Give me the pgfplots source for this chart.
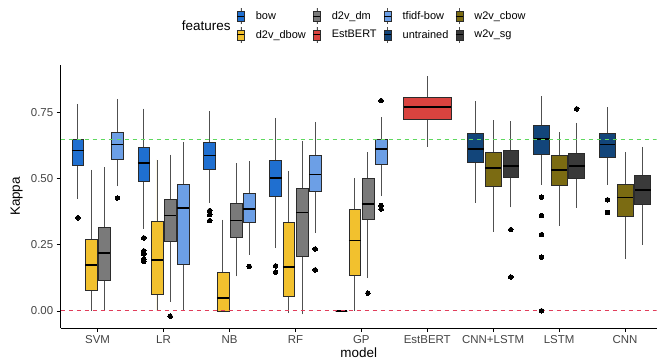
\documentclass[border=0pt]{standalone}
\usepackage{pgfplots}
\pgfplotsset{compat=1.18}
\usepgfplotslibrary{statistics}
\usepackage{fontspec}
\setmainfont{Liberation Sans}
\definecolor{cbow}{HTML}{1F6FD0}
\definecolor{cdbow}{HTML}{F2C12E}
\definecolor{cdm}{HTML}{7A7A7A}
\definecolor{ctfidf}{HTML}{6C9FE6}
\definecolor{cbert}{HTML}{D9433F}
\definecolor{cuntr}{HTML}{12457A}
\definecolor{ccbow}{HTML}{7B6B12}
\definecolor{csg}{HTML}{3A3A3A}
\definecolor{bdr}{HTML}{2B2B2B}
\definecolor{wsk}{HTML}{505050}
\definecolor{txt}{HTML}{444444}
\definecolor{gline}{HTML}{5FD85F}
\definecolor{rline}{HTML}{E13C5A}
\pgfplotsset{
  bxs/.style={forget plot, fill=#1, draw=bdr, line width=0.6bp,
    mark=*, mark size=2.3bp, mark options={fill=black, draw=black, line width=0bp}},
  featkey/.style={legend image code/.code={
    \draw[wsk, line width=0.6bp] (3.5bp,-8bp) -- (3.5bp,8bp);
    \filldraw[##1, draw=bdr, line width=0.4bp] (0bp,-5bp) rectangle (7bp,5bp);
    \draw[black, line width=1bp] (0bp,0bp) -- (7bp,0bp);
  }}
}
\begin{document}
\begin{tikzpicture}
\useasboundingbox (-60.7bp,-34bp) rectangle (596.3bp,328bp);
\begin{axis}[
  at={(0,0)}, anchor=south west,
  scale only axis, width=596bp, height=263bp,
  xmin=0.44, xmax=9.48, ymin=-0.065, ymax=0.93,
  boxplot/draw direction=y,
  boxplot/whisker extend=0,
  boxplot/every whisker/.style={draw=wsk, line width=0.9bp},
  boxplot/every median/.style={draw=black, line width=1.6bp},
  axis x line*=bottom, axis y line*=left,
  axis line style={black, line width=0.6bp},
  xtick={1,2,3,4,5,6,7,8,9},
  xticklabels={SVM,LR,NB,RF,GP,EstBERT,CNN+LSTM,LSTM,CNN},
  ytick={0,0.25,0.5,0.75},
  yticklabels={0.00,0.25,0.50,0.75},
  tick align=outside, major tick length=4bp,
  tick style={black, line width=0.6bp},
  ticklabel style={font=\fontsize{11.5}{13}\selectfont, text=txt},
  xlabel={model}, ylabel={Kappa},
  every axis x label/.style={at={(axis description cs:0.5,0)}, yshift=-25bp, anchor=center, font=\fontsize{13.5}{15}\selectfont},
  every axis y label/.style={at={(axis description cs:0,0.5)}, xshift=-44bp, rotate=90, anchor=center, font=\fontsize{13.5}{15}\selectfont},
  legend columns=4,
  legend cell align=left,
  legend style={draw=none, fill=none, name=leg, at={(0,1)}, anchor=west, xshift=173bp, yshift=39.5bp,
    font=\fontsize{11}{13}\selectfont, row sep=2bp,
    /tikz/every odd column/.append style={column sep=9bp},
    /tikz/every even column/.append style={column sep=5bp}},
]
% SVM
\addplot[bxs=cbow, boxplot prepared={draw position=0.7, box extend=0.18, lower whisker=0.424, lower quartile=0.552, median=0.606, upper quartile=0.648, upper whisker=0.783}] table[row sep=\\, y index=0] {v\\ 0.352\\};
\addplot[bxs=cdbow, boxplot prepared={draw position=0.9, box extend=0.18, lower whisker=0, lower quartile=0.076, median=0.174, upper quartile=0.271, upper whisker=0.534}] coordinates {};
\addplot[bxs=cdm, boxplot prepared={draw position=1.1, box extend=0.18, lower whisker=0, lower quartile=0.117, median=0.218, upper quartile=0.317, upper whisker=0.544}] coordinates {};
\addplot[bxs=ctfidf, boxplot prepared={draw position=1.3, box extend=0.18, lower whisker=0.471, lower quartile=0.574, median=0.629, upper quartile=0.675, upper whisker=0.802}] table[row sep=\\, y index=0] {v\\ 0.427\\};
% LR
\addplot[bxs=cbow, boxplot prepared={draw position=1.7, box extend=0.18, lower whisker=0.31, lower quartile=0.49, median=0.559, upper quartile=0.62, upper whisker=0.765}] table[row sep=\\, y index=0] {v\\ 0.276\\ 0.227\\ 0.215\\ 0.196\\ 0.187\\};
\addplot[bxs=cdbow, boxplot prepared={draw position=1.9, box extend=0.18, lower whisker=0, lower quartile=0.063, median=0.193, upper quartile=0.34, upper whisker=0.572}] coordinates {};
\addplot[bxs=cdm, boxplot prepared={draw position=2.1, box extend=0.18, lower whisker=0.035, lower quartile=0.262, median=0.36, upper quartile=0.42, upper whisker=0.591}] table[row sep=\\, y index=0] {v\\ -0.02\\};
\addplot[bxs=ctfidf, boxplot prepared={draw position=2.3, box extend=0.18, lower whisker=0, lower quartile=0.177, median=0.389, upper quartile=0.477, upper whisker=0.638}] coordinates {};
% NB
\addplot[bxs=cbow, boxplot prepared={draw position=2.7, box extend=0.18, lower whisker=0.408, lower quartile=0.537, median=0.587, upper quartile=0.638, upper whisker=0.755}] table[row sep=\\, y index=0] {v\\ 0.379\\ 0.364\\ 0.341\\};
\addplot[bxs=cdbow, boxplot prepared={draw position=2.9, box extend=0.18, lower whisker=0, lower quartile=0, median=0.048, upper quartile=0.145, upper whisker=0.345}] coordinates {};
\addplot[bxs=cdm, boxplot prepared={draw position=3.1, box extend=0.18, lower whisker=0.13, lower quartile=0.278, median=0.341, upper quartile=0.405, upper whisker=0.559}] coordinates {};
\addplot[bxs=ctfidf, boxplot prepared={draw position=3.3, box extend=0.18, lower whisker=0.212, lower quartile=0.336, median=0.386, upper quartile=0.446, upper whisker=0.566}] table[row sep=\\, y index=0] {v\\ 0.168\\};
% RF
\addplot[bxs=cbow, boxplot prepared={draw position=3.7, box extend=0.18, lower whisker=0.237, lower quartile=0.433, median=0.503, upper quartile=0.569, upper whisker=0.73}] table[row sep=\\, y index=0] {v\\ 0.17\\ 0.146\\};
\addplot[bxs=cdbow, boxplot prepared={draw position=3.9, box extend=0.18, lower whisker=-0.009, lower quartile=0.054, median=0.165, upper quartile=0.336, upper whisker=0.53}] coordinates {};
\addplot[bxs=cdm, boxplot prepared={draw position=4.1, box extend=0.18, lower whisker=-0.013, lower quartile=0.206, median=0.372, upper quartile=0.465, upper whisker=0.641}] coordinates {};
\addplot[bxs=ctfidf, boxplot prepared={draw position=4.3, box extend=0.18, lower whisker=0.294, lower quartile=0.451, median=0.515, upper quartile=0.587, upper whisker=0.715}] table[row sep=\\, y index=0] {v\\ 0.234\\ 0.155\\};
% GP
\addplot[bxs=cbow, boxplot prepared={draw position=4.7, box extend=0.18, lower whisker=0, lower quartile=0, median=0, upper quartile=0, upper whisker=0}] coordinates {};
\addplot[bxs=cdbow, boxplot prepared={draw position=4.9, box extend=0.18, lower whisker=0, lower quartile=0.136, median=0.266, upper quartile=0.385, upper whisker=0.503}] coordinates {};
\addplot[bxs=cdm, boxplot prepared={draw position=5.1, box extend=0.18, lower whisker=0.124, lower quartile=0.345, median=0.405, upper quartile=0.5, upper whisker=0.6}] table[row sep=\\, y index=0] {v\\ 0.067\\};
\addplot[bxs=ctfidf, boxplot prepared={draw position=5.3, box extend=0.18, lower whisker=0.433, lower quartile=0.553, median=0.612, upper quartile=0.648, upper whisker=0.732}] table[row sep=\\, y index=0] {v\\ 0.398\\ 0.385\\ 0.795\\};
% EstBERT
\addplot[bxs=cbert, boxplot prepared={draw position=6, box extend=0.72, lower whisker=0.62, lower quartile=0.723, median=0.771, upper quartile=0.809, upper whisker=0.888}] coordinates {};
% CNN+LSTM
\addplot[bxs=cuntr, boxplot prepared={draw position=6.7333, box extend=0.24, lower whisker=0.408, lower quartile=0.562, median=0.612, upper quartile=0.673, upper whisker=0.793}] coordinates {};
\addplot[bxs=ccbow, boxplot prepared={draw position=7, box extend=0.24, lower whisker=0.30, lower quartile=0.471, median=0.54, upper quartile=0.601, upper whisker=0.72}] coordinates {};
\addplot[bxs=csg, boxplot prepared={draw position=7.2667, box extend=0.24, lower whisker=0.391, lower quartile=0.506, median=0.549, upper quartile=0.606, upper whisker=0.717}] table[row sep=\\, y index=0] {v\\ 0.307\\ 0.128\\};
% LSTM
\addplot[bxs=cuntr, boxplot prepared={draw position=7.7333, box extend=0.24, lower whisker=0.477, lower quartile=0.591, median=0.65, upper quartile=0.701, upper whisker=0.812}] table[row sep=\\, y index=0] {v\\ 0.43\\ 0.36\\ 0.288\\ 0.203\\ 0\\};
\addplot[bxs=ccbow, boxplot prepared={draw position=8, box extend=0.24, lower whisker=0.322, lower quartile=0.473, median=0.532, upper quartile=0.587, upper whisker=0.675}] coordinates {};
\addplot[bxs=csg, boxplot prepared={draw position=8.2667, box extend=0.24, lower whisker=0.389, lower quartile=0.503, median=0.549, upper quartile=0.597, upper whisker=0.711}] table[row sep=\\, y index=0] {v\\ 0.764\\};
% CNN
\addplot[bxs=cuntr, boxplot prepared={draw position=8.7333, box extend=0.24, lower whisker=0.477, lower quartile=0.581, median=0.629, upper quartile=0.67, upper whisker=0.77}] table[row sep=\\, y index=0] {v\\ 0.42\\ 0.372\\};
\addplot[bxs=ccbow, boxplot prepared={draw position=9, box extend=0.24, lower whisker=0.196, lower quartile=0.357, median=0.429, upper quartile=0.477, upper whisker=0.6}] coordinates {};
\addplot[bxs=csg, boxplot prepared={draw position=9.2667, box extend=0.24, lower whisker=0.25, lower quartile=0.402, median=0.458, upper quartile=0.511, upper whisker=0.62}] coordinates {};
% reference lines
\addplot[forget plot, draw=gline, line width=0.7bp, dash pattern=on 4bp off 4bp] coordinates {(0.44,0.65) (9.48,0.65)};
\addplot[forget plot, draw=rline, line width=0.9bp, dash pattern=on 4bp off 4bp] coordinates {(0.44,0) (9.48,0)};
% legend
\addlegendimage{featkey, fill=cbow}\addlegendentry{bow}
\addlegendimage{featkey, fill=cdm}\addlegendentry{d2v\_dm}
\addlegendimage{featkey, fill=ctfidf}\addlegendentry{tfidf-bow}
\addlegendimage{featkey, fill=ccbow}\addlegendentry{w2v\_cbow}
\addlegendimage{featkey, fill=cdbow}\addlegendentry{d2v\_dbow}
\addlegendimage{featkey, fill=cbert}\addlegendentry{EstBERT}
\addlegendimage{featkey, fill=cuntr}\addlegendentry{untrained}
\addlegendimage{featkey, fill=csg}\addlegendentry{w2v\_sg}
\end{axis}
\node[anchor=east, font=\fontsize{13.5}{15}\selectfont, inner sep=0pt] at ([xshift=-3bp]leg.west) {features};
\end{tikzpicture}
\end{document}
